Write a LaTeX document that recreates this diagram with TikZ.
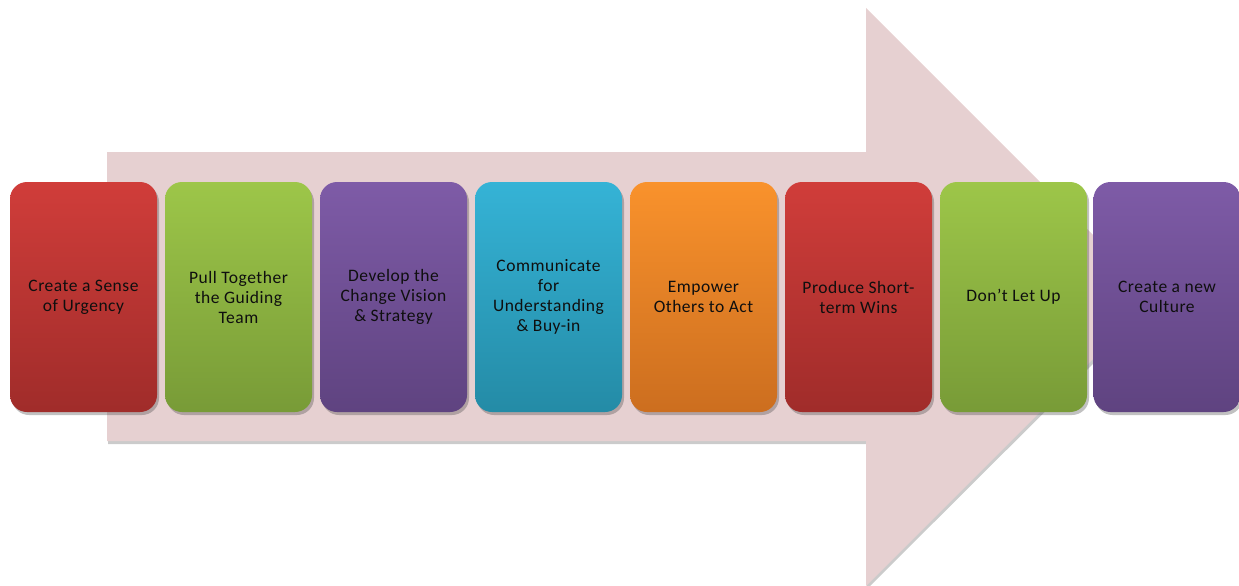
\documentclass[tikz,border=0pt]{standalone}
\usepackage{fontspec}
\setmainfont[LetterSpace=3]{Carlito}
\usetikzlibrary{shadows}
\definecolor{arrowpink}{RGB}{230,208,209}
\definecolor{redT}{RGB}{208,61,58}\definecolor{redB}{RGB}{160,44,42}
\definecolor{grnT}{RGB}{157,198,73}\definecolor{grnB}{RGB}{120,155,55}
\definecolor{purT}{RGB}{126,91,167}\definecolor{purB}{RGB}{95,67,128}
\definecolor{bluT}{RGB}{53,179,214}\definecolor{bluB}{RGB}{36,139,166}
\definecolor{orgT}{RGB}{249,146,44}\definecolor{orgB}{RGB}{204,110,31}
\definecolor{txt}{RGB}{15,15,15}
\begin{document}
\begin{tikzpicture}[x=1pt,y=-1pt,
  stagebox/.style={rounded corners=17pt, minimum width=147pt, minimum height=230pt,
    inner sep=0pt, align=center, text=txt,
    font=\fontsize{17.5}{20}\selectfont,
    drop shadow={shadow xshift=2pt, shadow yshift=-3pt, opacity=0.35, fill=black!70}},
  red/.style={stagebox, top color=redT, bottom color=redB},
  grn/.style={stagebox, top color=grnT, bottom color=grnB},
  pur/.style={stagebox, top color=purT, bottom color=purB},
  blu/.style={stagebox, top color=bluT, bottom color=bluB},
  org/.style={stagebox, top color=orgT, bottom color=orgB}]
\useasboundingbox (0,0) rectangle (1239,586);
% big arrow shadow and arrow
\fill[black!45, opacity=0.45] (108,155) -- (867,155) -- (867,11) -- (1157,300) -- (867,589) -- (867,444) -- (108,444) -- cycle;
\fill[arrowpink] (107,152) -- (866,152) -- (866,8) -- (1155,297) -- (866,586) -- (866,441) -- (107,441) -- cycle;
% stages
\node[red] (s1) at (83.5,297) {Create a Sense\\of Urgency};
\node[grn] (s2) at (238.5,297) {Pull Together\\the Guiding\\Team};
\node[pur] (s3) at (393.5,297) {Develop the\\Change Vision\\\& Strategy};
\node[blu] (s4) at (548.5,297) {Communicate\\for\\Understanding\\\& Buy-in};
\node[org] (s5) at (703.5,297) {Empower\\Others to Act};
\node[red] (s6) at (858.5,297) {Produce Short-\\term Wins};
\node[grn] (s7) at (1013.5,297) {Don’t Let Up};
\node[pur] (s8) at (1167,297) {Create a new\\Culture};
\end{tikzpicture}
\end{document}
